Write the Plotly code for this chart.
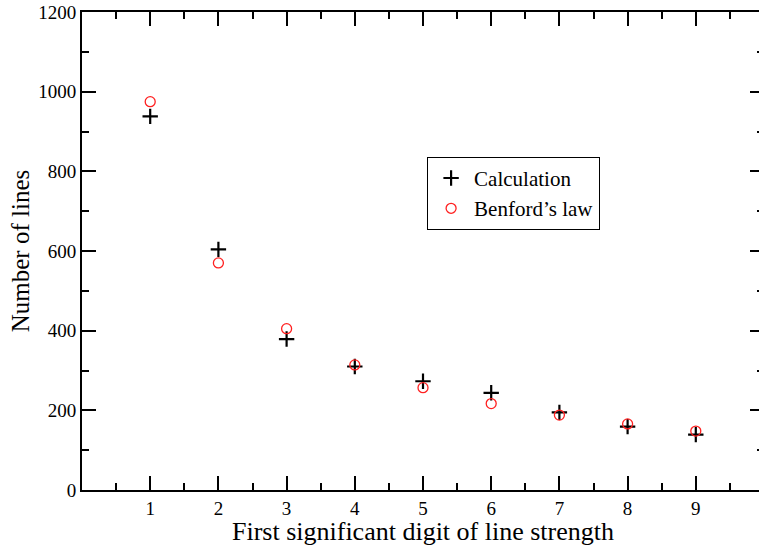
import plotly.graph_objects as go

digits = [1, 2, 3, 4, 5, 6, 7, 8, 9]
calculation = [938, 604, 379, 310, 273, 244, 195, 159, 139]
benford = [975, 570, 405, 314, 257, 217, 188, 166, 148]
x_ticks = [1, 2, 3, 4, 5, 6, 7, 8, 9]
x_minor = [0.5, 1.5, 2.5, 3.5, 4.5, 5.5, 6.5, 7.5, 8.5, 9.5]

FONT = "Liberation Serif"

fig = go.Figure()
fig.add_trace(go.Scatter(
    x=digits, y=calculation, mode="markers", name="Calculation",
    marker=dict(symbol="cross-thin", size=11, color="black",
                line=dict(color="black", width=2.2)),
))
fig.add_trace(go.Scatter(
    x=digits, y=benford, mode="markers", name="Benford\u2019s law",
    marker=dict(symbol="circle-open", size=10, color="#ff2020",
                line=dict(color="#ff2020", width=1.3)),
))

fig.update_layout(
    width=766, height=546,
    margin=dict(l=82, r=0, t=12, b=56),
    paper_bgcolor="white", plot_bgcolor="white",
    font=dict(family=FONT, color="black", size=19),
    showlegend=True,
    legend=dict(
        x=0.506, y=0.697, xanchor="left", yanchor="top",
        bordercolor="black", borderwidth=1, bgcolor="white",
        font=dict(family=FONT, size=21, color="black"),
        itemwidth=36, tracegroupgap=0,
    ),
    xaxis=dict(
        range=[0, 10], showgrid=False, zeroline=False,
        showline=True, linecolor="black", linewidth=2, mirror="ticks",
        ticks="inside", ticklen=14, tickwidth=2, tickcolor="black",
        tickmode="array", tickvals=x_ticks, ticktext=[str(v) for v in x_ticks],
        tickfont=dict(family=FONT, size=19),
        minor=dict(tickmode="array", tickvals=x_minor, ticks="inside",
                   ticklen=7, tickwidth=2, tickcolor="black", showgrid=False),
        title=dict(text="First significant digit of line strength",
                   font=dict(family=FONT, size=26), standoff=2),
    ),
    yaxis=dict(
        range=[0, 1200], showgrid=False, zeroline=False,
        showline=True, linecolor="black", linewidth=2, mirror="ticks",
        ticks="inside", ticklen=14, tickwidth=2, tickcolor="black",
        dtick=200, tick0=0,
        tickfont=dict(family=FONT, size=19),
        minor=dict(dtick=100, ticks="inside", ticklen=7, tickwidth=2,
                   tickcolor="black", showgrid=False),
        title=dict(text="Number of lines",
                   font=dict(family=FONT, size=25), standoff=1),
    ),
)

fig.write_html(
    "out.html",
    config={"displayModeBar": False},
    post_script="document.body.style.margin='0';document.body.style.overflow='hidden';"
                "document.documentElement.style.overflow='hidden';",
)
